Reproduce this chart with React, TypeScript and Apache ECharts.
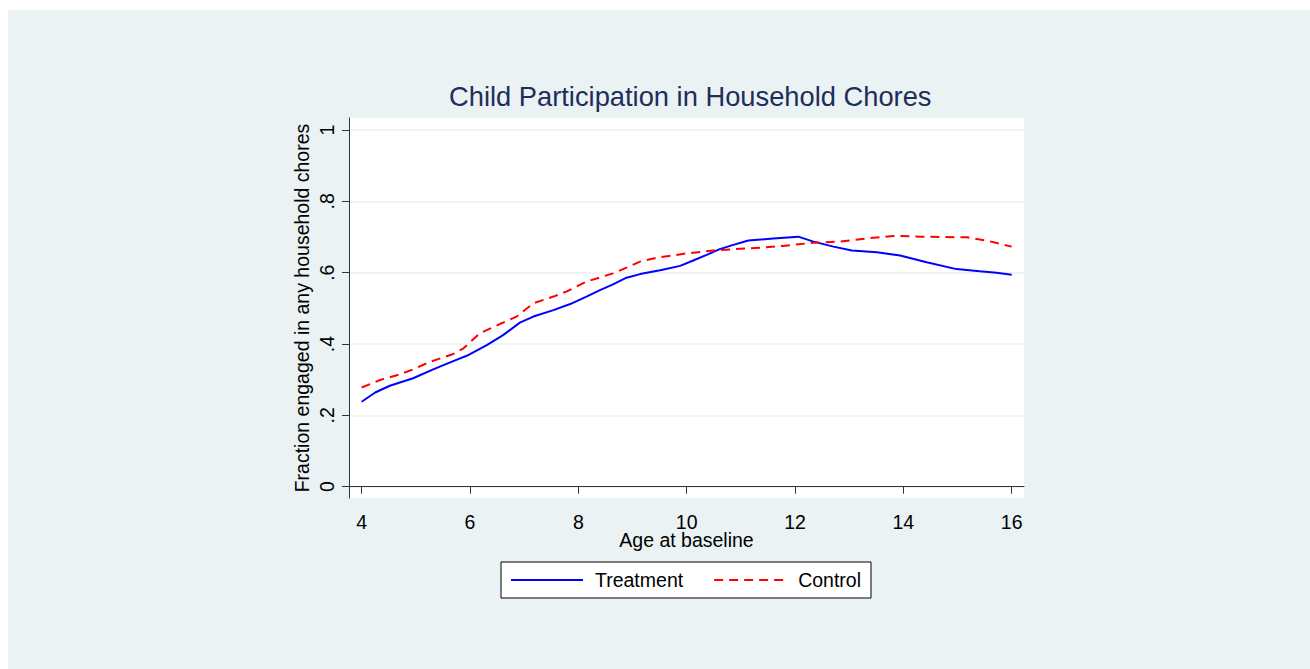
import React, { useEffect, useRef } from "react";
import * as echarts from "echarts";

const treatmentAge = [4.0, 4.25, 4.52, 4.95, 5.32, 5.69, 5.94, 6.31, 6.61, 6.92, 7.17, 7.54, 7.85, 8.15, 8.4, 8.64, 8.89, 9.14, 9.51, 9.88, 10.12, 10.37, 10.61, 10.86, 11.14, 11.6, 12.06, 12.34, 12.71, 13.05, 13.51, 13.94, 14.43, 14.98, 15.41, 15.72, 16.0];
const treatmentValue = [0.238, 0.264, 0.283, 0.304, 0.329, 0.352, 0.367, 0.397, 0.425, 0.46, 0.477, 0.495, 0.512, 0.533, 0.551, 0.567, 0.586, 0.596, 0.607, 0.619, 0.634, 0.65, 0.666, 0.678, 0.69, 0.696, 0.701, 0.687, 0.673, 0.662, 0.657, 0.648, 0.629, 0.61, 0.604, 0.6, 0.594];

const controlAge = [4.0, 4.34, 4.71, 4.95, 5.26, 5.69, 5.88, 6.18, 6.55, 6.86, 7.17, 7.54, 7.78, 8.15, 8.64, 8.89, 9.14, 9.45, 10.0, 10.49, 10.98, 11.17, 11.78, 12.34, 12.83, 13.32, 13.81, 14.31, 15.17, 15.54, 16.0];
const controlValue = [0.278, 0.299, 0.315, 0.329, 0.35, 0.372, 0.388, 0.43, 0.456, 0.477, 0.514, 0.533, 0.547, 0.575, 0.598, 0.614, 0.631, 0.642, 0.654, 0.662, 0.667, 0.668, 0.675, 0.684, 0.687, 0.696, 0.703, 0.701, 0.699, 0.69, 0.673];

const xTicks = [4, 6, 8, 10, 12, 14, 16];
const yTicks = [0, 0.2, 0.4, 0.6, 0.8, 1];

const titleText = "Child Participation in Household Chores";
const xName = "Age at baseline";
const yName = "Fraction engaged in any household chores";
const seriesNames = ["Treatment", "Control"];

const FONT = "'Liberation Sans', Arial, sans-serif";

export default function App() {
  const ref = useRef<HTMLDivElement>(null);
  useEffect(() => {
    if (!ref.current) return;
    const chart = echarts.init(ref.current, undefined, { renderer: "svg" });
    const pair = (xs: number[], ys: number[]) => xs.map((x, i) => [x, ys[i]]);
    chart.setOption({
      animation: false,
      textStyle: { fontFamily: FONT },
      graphic: [
        {
          type: "rect",
          z: -10,
          shape: { x: 8, y: 10, width: 1302, height: 659 },
          style: { fill: "#eaf2f3" },
          silent: true,
        },
      ],
      title: {
        text: titleText,
        left: 449,
        top: 83,
        padding: 0,
        textStyle: { fontFamily: FONT, fontSize: 27.3, fontWeight: "normal", color: "#1e2e5a" },
      },
      grid: {
        left: 349,
        right: 286,
        top: 118,
        bottom: 171,
        show: true,
        backgroundColor: "#ffffff",
        borderWidth: 0,
      },
      legend: {
        left: 501,
        top: 562,
        orient: "horizontal",
        backgroundColor: "#ffffff",
        borderColor: "#000000",
        borderWidth: 1,
        borderRadius: 0,
        padding: [8, 10, 8, 9],
        itemGap: 30,
        itemWidth: 72,
        itemHeight: 14,
        itemStyle: { opacity: 0, color: "rgba(0,0,0,0)", borderWidth: 0 },
        textStyle: { fontFamily: FONT, fontSize: 19.5, color: "#000", padding: [0, 0, 0, 7] },
        data: seriesNames,
      },
      xAxis: {
        type: "value",
        min: 3.766,
        max: 16.227,
        name: xName,
        nameLocation: "middle",
        nameGap: 32,
        nameMoveOverlap: false,
        nameTextStyle: { fontFamily: FONT, fontSize: 19.5, color: "#000" },
        axisLine: { show: true, lineStyle: { color: "#333", width: 1 } },
        axisTick: { show: true, length: 7, lineStyle: { color: "#333" }, customValues: xTicks },
        axisLabel: { fontFamily: FONT, fontSize: 19.5, color: "#000", margin: 14, customValues: xTicks },
        splitLine: { show: false },
      },
      yAxis: {
        type: "value",
        min: -0.0317,
        max: 1.0336,
        name: yName,
        nameLocation: "middle",
        nameRotate: 90,
        nameGap: 37,
        nameMoveOverlap: false,
        nameTextStyle: { fontFamily: FONT, fontSize: 19.5, color: "#000" },
        axisLine: { show: true, lineStyle: { color: "#333", width: 1 } },
        axisTick: { show: true, length: 7, lineStyle: { color: "#333" }, customValues: yTicks },
        axisLabel: {
          fontFamily: FONT,
          fontSize: 19.5,
          color: "#000",
          rotate: 90,
          margin: 12,
          customValues: yTicks,
          formatter: (v: number) => {
            if (Math.abs(v) < 1e-9) return "0";
            if (Math.abs(v - 1) < 1e-9) return "1";
            return "." + Math.round(v * 10);
          },
        },
        splitLine: { show: true, lineStyle: { color: "#eaf2f3", width: 1.5 } },
      },
      series: [
        {
          name: seriesNames[0],
          type: "line",
          data: pair(treatmentAge, treatmentValue),
          showSymbol: false,
          symbol: "none",
          lineStyle: { color: "#0000ff", width: 2 },
          itemStyle: { color: "#0000ff" },
        },
        {
          name: seriesNames[1],
          type: "line",
          data: pair(controlAge, controlValue),
          showSymbol: false,
          symbol: "none",
          lineStyle: { color: "#ff0000", width: 2, type: [9, 6] },
          itemStyle: { color: "#ff0000" },
        },
      ],
    });
    return () => chart.dispose();
  }, []);
  return (
    <div
      ref={ref}
      style={{ position: "absolute", left: 0, top: 0, width: 1310, height: 669 }}
    />
  );
}
